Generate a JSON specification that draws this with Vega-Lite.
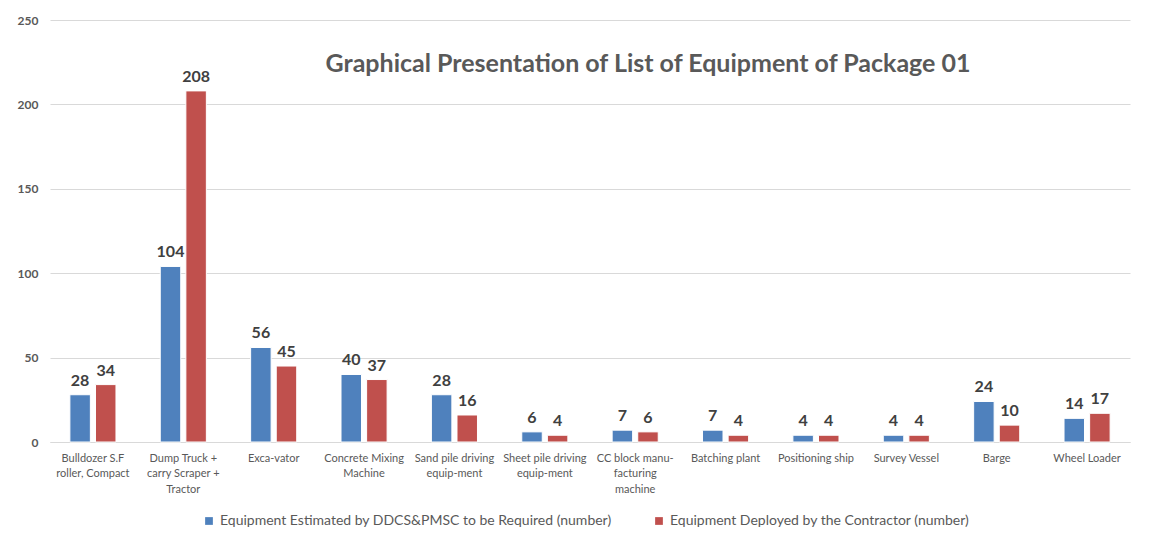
{
  "$schema": "https://vega.github.io/schema/vega-lite/v6.json",
  "autosize": "none",
  "width": 1080,
  "height": 422,
  "padding": {"left": 50, "top": 20, "right": 21, "bottom": 115},
  "background": "white",
  "title": {
    "text": "Graphical Presentation of List of Equipment of Package 01",
    "font": "Lato",
    "fontSize": 25,
    "fontWeight": "bold",
    "color": "#595959",
    "anchor": "middle",
    "orient": "top",
    "offset": -63,
    "dx": 58
  },
  "data": {
    "values": [
      {"equipment": "Bulldozer S.F|roller, Compact", "series": "Equipment Estimated by DDCS&PMSC to be Required (number)", "count": 28},
      {"equipment": "Bulldozer S.F|roller, Compact", "series": "Equipment Deployed by the Contractor (number)", "count": 34},
      {"equipment": "Dump Truck +|carry Scraper +|Tractor", "series": "Equipment Estimated by DDCS&PMSC to be Required (number)", "count": 104},
      {"equipment": "Dump Truck +|carry Scraper +|Tractor", "series": "Equipment Deployed by the Contractor (number)", "count": 208},
      {"equipment": "Exca-vator", "series": "Equipment Estimated by DDCS&PMSC to be Required (number)", "count": 56},
      {"equipment": "Exca-vator", "series": "Equipment Deployed by the Contractor (number)", "count": 45},
      {"equipment": "Concrete Mixing|Machine", "series": "Equipment Estimated by DDCS&PMSC to be Required (number)", "count": 40},
      {"equipment": "Concrete Mixing|Machine", "series": "Equipment Deployed by the Contractor (number)", "count": 37},
      {"equipment": "Sand pile driving|equip-ment", "series": "Equipment Estimated by DDCS&PMSC to be Required (number)", "count": 28},
      {"equipment": "Sand pile driving|equip-ment", "series": "Equipment Deployed by the Contractor (number)", "count": 16},
      {"equipment": "Sheet pile driving|equip-ment", "series": "Equipment Estimated by DDCS&PMSC to be Required (number)", "count": 6},
      {"equipment": "Sheet pile driving|equip-ment", "series": "Equipment Deployed by the Contractor (number)", "count": 4},
      {"equipment": "CC block manu-|facturing|machine", "series": "Equipment Estimated by DDCS&PMSC to be Required (number)", "count": 7},
      {"equipment": "CC block manu-|facturing|machine", "series": "Equipment Deployed by the Contractor (number)", "count": 6},
      {"equipment": "Batching plant", "series": "Equipment Estimated by DDCS&PMSC to be Required (number)", "count": 7},
      {"equipment": "Batching plant", "series": "Equipment Deployed by the Contractor (number)", "count": 4},
      {"equipment": "Positioning ship", "series": "Equipment Estimated by DDCS&PMSC to be Required (number)", "count": 4},
      {"equipment": "Positioning ship", "series": "Equipment Deployed by the Contractor (number)", "count": 4},
      {"equipment": "Survey Vessel", "series": "Equipment Estimated by DDCS&PMSC to be Required (number)", "count": 4},
      {"equipment": "Survey Vessel", "series": "Equipment Deployed by the Contractor (number)", "count": 4},
      {"equipment": "Barge", "series": "Equipment Estimated by DDCS&PMSC to be Required (number)", "count": 24},
      {"equipment": "Barge", "series": "Equipment Deployed by the Contractor (number)", "count": 10},
      {"equipment": "Wheel Loader", "series": "Equipment Estimated by DDCS&PMSC to be Required (number)", "count": 14},
      {"equipment": "Wheel Loader", "series": "Equipment Deployed by the Contractor (number)", "count": 17}
    ]
  },
  "encoding": {
    "x": {
      "field": "equipment",
      "type": "nominal",
      "sort": null,
      "scale": {"paddingInner": 0.49, "paddingOuter": 0.22},
      "axis": {
        "title": null,
        "labelAngle": 0,
        "labelExpr": "split(datum.label, '|')",
        "labelFont": "Lato",
        "labelFontSize": 11,
        "labelColor": "#595959",
        "labelLineHeight": 15.5,
        "labelPadding": 10,
        "labelBaseline": "top",
        "ticks": false,
        "domain": true,
        "domainColor": "#d9d9d9",
        "labelLimit": 200
      }
    },
    "xOffset": {
      "field": "series",
      "type": "nominal",
      "sort": ["Equipment Estimated by DDCS&PMSC to be Required (number)", "Equipment Deployed by the Contractor (number)"],
      "scale": {"paddingInner": 0.2}
    },
    "y": {
      "field": "count",
      "type": "quantitative",
      "scale": {"domain": [0, 250]},
      "axis": {
        "title": null,
        "values": [0, 50, 100, 150, 200, 250],
        "labelFont": "Lato",
        "labelFontSize": 12,
        "labelFontWeight": "bold",
        "labelColor": "#595959",
        "labelPadding": 12,
        "ticks": false,
        "domain": false,
        "grid": true,
        "gridColor": "#d9d9d9",
        "gridWidth": 1
      }
    },
    "color": {
      "field": "series",
      "type": "nominal",
      "sort": ["Equipment Estimated by DDCS&PMSC to be Required (number)", "Equipment Deployed by the Contractor (number)"],
      "scale": {
        "domain": ["Equipment Estimated by DDCS&PMSC to be Required (number)", "Equipment Deployed by the Contractor (number)"],
        "range": ["#4F81BD", "#C0504D"]
      },
      "legend": {
        "title": null,
        "orient": "none",
        "legendX": 152,
        "legendY": 494,
        "direction": "horizontal",
        "symbolType": "square",
        "symbolSize": 60,
        "symbolStrokeWidth": 0,
        "labelFont": "Lato",
        "labelFontSize": 14,
        "labelColor": "#595959",
        "labelLimit": 500,
        "columnPadding": 40
      }
    }
  },
  "layer": [
    {"mark": {"type": "bar", "stroke": "white", "strokeWidth": 1}},
    {
      "mark": {"type": "text", "baseline": "bottom", "dy": -6, "font": "Lato", "fontSize": 16, "fontWeight": "bold", "color": "#404040"},
      "encoding": {"text": {"field": "count", "type": "quantitative"}, "color": {"value": "#404040"}}
    }
  ],
  "config": {
    "view": {"stroke": null}
  }
}
